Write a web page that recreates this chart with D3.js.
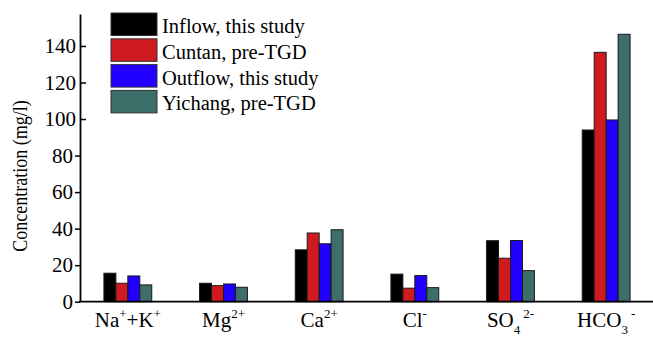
<!DOCTYPE html>
<html>
<head>
<meta charset="utf-8">
<script src="https://cdn.jsdelivr.net/npm/d3@7"></script>
<style>
  body { margin: 0; background: #fff; }
  text { font-family: "Liberation Serif", "Times New Roman", serif; }
</style>
</head>
<body>
<div id="chart"></div>
<script>
const WIDTH = 653;
const HEIGHT = 337;

// ions along the x axis
const ions = ['NaK', 'Mg', 'Ca', 'Cl', 'SO4', 'HCO3'];
// label pieces: [text, kind] kind = n (normal), sup, sub
const ionLabels = [
    [['Na', 'n'], ['+', 'sup'], ['+K', 'n'], ['+', 'sup']],
    [['Mg', 'n'], ['2+', 'sup']],
    [['Ca', 'n'], ['2+', 'sup']],
    [['Cl', 'n'], ['-', 'sup']],
    [['SO', 'n'], ['4', 'sub'], ['2-', 'sup']],
    [['HCO', 'n'], ['3', 'sub'], ['-', 'sup']]
];

const seriesNames = ['Inflow, this study', 'Cuntan, pre-TGD', 'Outflow, this study', 'Yichang, pre-TGD'];
const seriesColors = ['#000000', '#cf1b1f', '#2200ff', '#3d6e6a'];

const inflow  = [15.6, 10.1, 28.4, 15.1, 33.4, 94.0];
const cuntan  = [10.1, 8.8, 37.6, 7.4, 23.8, 136.5];
const outflow = [14.1, 9.7, 31.7, 14.3, 33.5, 99.5];
const yichang = [9.2, 7.9, 39.4, 7.7, 17.0, 146.4];
const seriesValues = [inflow, cuntan, outflow, yichang];

const yTicks = [0, 20, 40, 60, 80, 100, 120, 140];

const margin = { left: 80, right: 0, top: 14, bottom: 35 };

var svg = d3.select('#chart')
    .append('svg')
    .attr('width', WIDTH)
    .attr('height', HEIGHT);

let x = d3.scaleBand()
    .domain(ions)
    .range([margin.left, 654])
    .paddingInner(0.5)
    .paddingOuter(0.25);

let xs = d3.scaleBand()
    .domain(d3.range(seriesNames.length))
    .range([0, x.bandwidth()]);

let y = d3.scaleLinear()
    .domain([0, 157.5])
    .range([301.7, margin.top]);

// bars
let groups = svg.selectAll('g.grp')
    .data(ions)
    .enter()
    .append('g')
    .attr('class', 'grp')
    .attr('transform', d => `translate(${x(d)},0)`);

groups.selectAll('rect')
    .data((d, i) => seriesValues.map((s, k) => ({ k: k, v: s[i] })))
    .enter()
    .append('rect')
    .attr('x', d => xs(d.k))
    .attr('y', d => y(d.v))
    .attr('width', xs.bandwidth())
    .attr('height', d => y(0) - y(d.v))
    .attr('fill', d => seriesColors[d.k])
    .attr('stroke', '#1a1a1a')
    .attr('stroke-width', 1);

// y axis
let yAxis = svg.append('g')
    .attr('transform', `translate(${margin.left},0)`)
    .call(d3.axisLeft(y).tickValues(yTicks).tickSize(5).tickSizeOuter(0).tickPadding(3));
yAxis.select('.domain').attr('stroke', '#000').attr('stroke-width', 1.8);
// upper ticks point inward in the original, lower ones outward
yAxis.selectAll('.tick line')
    .attr('stroke', '#000')
    .attr('stroke-width', 1.5)
    .attr('x2', d => d >= 100 ? 6 : -5);
yAxis.selectAll('.tick text')
    .attr('x', d => d >= 100 ? -4 : -7)
    .attr('font-family', '"Liberation Serif", serif')
    .attr('font-size', 21)
    .attr('fill', '#000');

// x axis line
svg.append('line')
    .attr('x1', margin.left - 1)
    .attr('x2', WIDTH)
    .attr('y1', y(0))
    .attr('y2', y(0))
    .attr('stroke', '#000')
    .attr('stroke-width', 1.8);

// x labels with sub/superscripts
ions.forEach((ion, i) => {
    let t = svg.append('text')
        .attr('x', x(ion) + x.bandwidth() / 2)
        .attr('y', 327)
        .attr('text-anchor', 'middle')
        .attr('font-size', 21)
        .attr('fill', '#000');
    let shift = 0;
    ionLabels[i].forEach(p => {
        let target = p[1] == 'sup' ? -9 : (p[1] == 'sub' ? 7 : 0);
        let ts = t.append('tspan')
            .attr('dy', target - shift)
            .text(p[0]);
        if (p[1] != 'n') ts.attr('font-size', 13);
        if (p[1] == 'sup' && shift > 0) ts.attr('dx', 3);
        shift = target;
    });
});

// y title
svg.append('text')
    .attr('transform', `translate(27,176) rotate(-90) scale(0.88,1)`)
    .attr('text-anchor', 'middle')
    .attr('font-size', 20.5)
    .attr('fill', '#000')
    .text('Concentration (mg/l)');

// legend
let legend = svg.append('g')
    .attr('transform', 'translate(111,13)');

seriesNames.forEach((name, k) => {
    legend.append('rect')
        .attr('x', 0)
        .attr('y', k * 25.8)
        .attr('width', 46)
        .attr('height', 22.5)
        .attr('fill', seriesColors[k])
        .attr('stroke', '#333')
        .attr('stroke-width', 1);
    legend.append('text')
        .attr('x', 51)
        .attr('y', k * 25.8 + 20)
        .attr('font-size', 20.5)
        .attr('fill', '#000')
        .text(name);
});
</script>
</body>
</html>
